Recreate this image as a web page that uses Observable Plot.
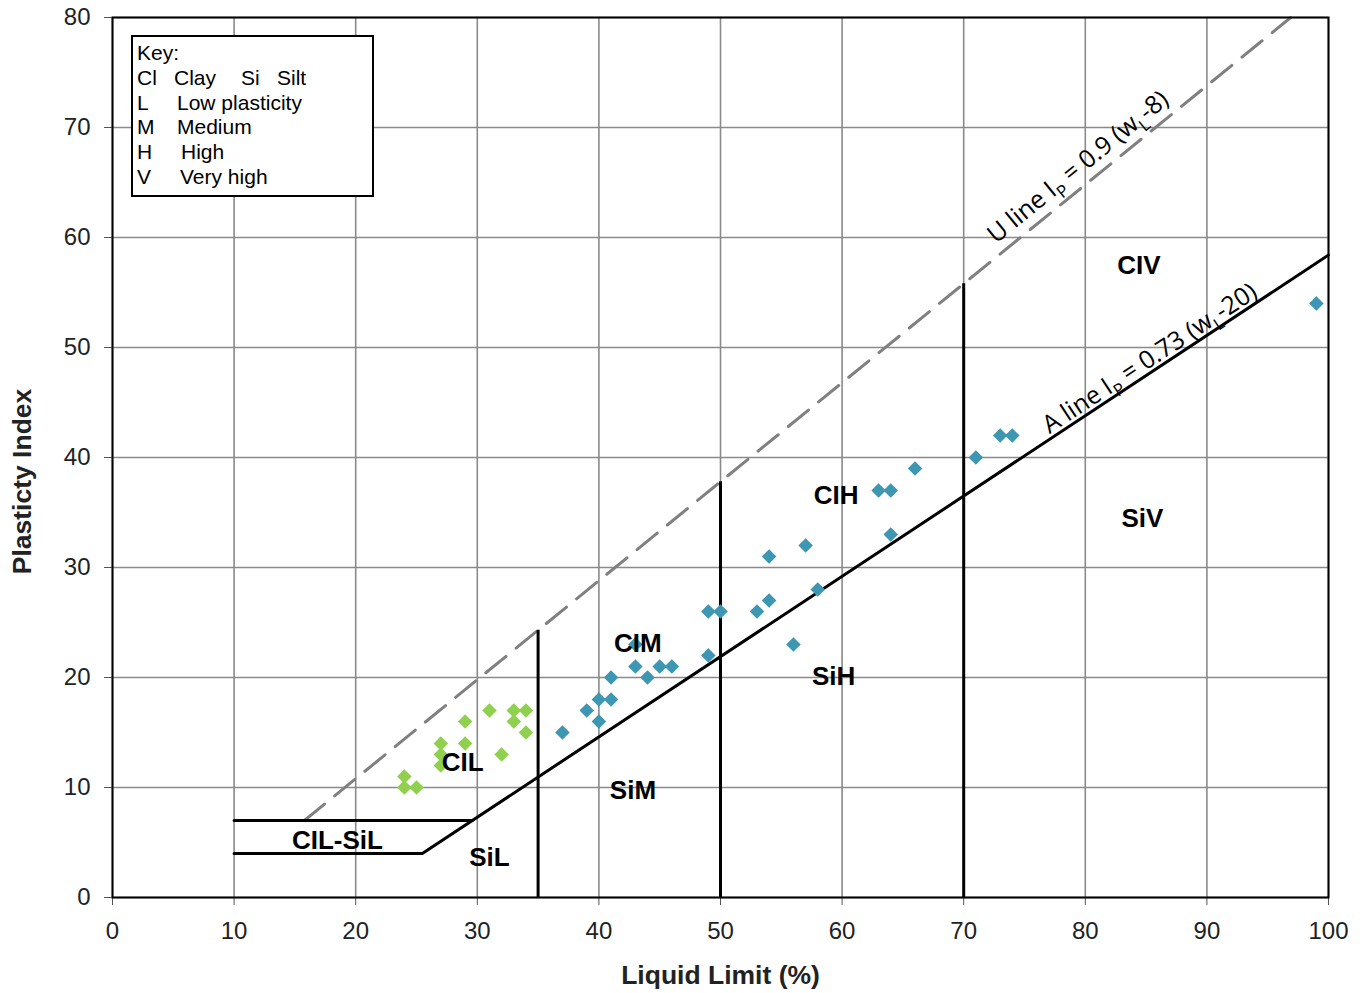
<!DOCTYPE html>
<html>
<head>
<meta charset="utf-8">
<script src="https://cdn.jsdelivr.net/npm/d3@7"></script>
<script src="https://cdn.jsdelivr.net/npm/@observablehq/plot@0.6"></script>
<style>
  body { margin: 0; background: #fff; font-family: "Liberation Sans", Arial, sans-serif; }
  #wrap { position: relative; width: 1371px; height: 993px; }
  #key { position: absolute; left: 131px; top: 35px; width: 239px; height: 158px;
         border: 2px solid #000; background: #fff; font-size: 21px; color: #000; }
  #key span { position: absolute; white-space: nowrap; line-height: 1; }
</style>
</head>
<body>
<div id="wrap"><div id="chart"></div><div id="key"></div></div>
<script>
// ---- data ----
const xTicks = [0, 10, 20, 30, 40, 50, 60, 70, 80, 90, 100];
const yTicks = [0, 10, 20, 30, 40, 50, 60, 70, 80];

// soil samples (liquid limit %, plasticity index)
const lowLL = [24, 24, 25, 27, 27, 27, 29, 29, 31, 32, 33, 33, 34, 34];
const lowPI = [11, 10, 10, 14, 13, 12, 14, 16, 17, 13, 17, 16, 17, 15];
const highLL = [37, 39, 40, 40, 41, 41, 43, 43, 44, 45, 46, 49, 49, 50, 53, 54, 54, 56, 57, 58, 63, 64, 64, 66, 71, 73, 74, 99];
const highPI = [15, 17, 18, 16, 18, 20, 21, 23, 20, 21, 21, 22, 26, 26, 26, 27, 31, 23, 32, 28, 37, 37, 33, 39, 40, 42, 42, 54];

// chart boundaries
const uSlope = 0.9, uOffset = 8;      // U line Ip = 0.9 (wL - 8)
const aSlope = 0.73, aOffset = 20;    // A line Ip = 0.73 (wL - 20)
const uLineLL = [15.78, 96.89];
const aLineLL = [25.48, 100];
const lowerBandPI = 4, upperBandPI = 7, bandStartLL = 10;
const dividerLL = [35, 50, 70];

// zone labels
const zoneNames = ["CIV", "SiV", "CIH", "SiH", "CIM", "SiM", "CIL", "SiL", "CIL-SiL"];
const zoneLL =    [84.4, 84.7, 59.5, 59.3, 43.2, 42.8, 28.8, 31.0, 18.5];
const zonePI =    [57.4, 34.4, 36.5, 20.1, 23.1, 9.7, 12.3, 3.6, 5.2];

const lineLabels = ["U line I_P = 0.9 (w_L-8)", "A line I_P = 0.73 (w_L-20)"];
const lineLabelLL = [79.4, 85.3];
const lineLabelPI = [66.4, 49.0];

// ---- build tables ----
const uFn = x => uSlope * (x - uOffset);
const aFn = x => aSlope * (x - aOffset);
const lowPts = lowLL.map((x, i) => ({x, y: lowPI[i]}));
const highPts = highLL.map((x, i) => ({x, y: highPI[i]}));
const uLine = uLineLL.map(x => ({x, y: uFn(x)}));
const aLine = [{x: bandStartLL, y: lowerBandPI}, ...aLineLL.map(x => ({x, y: aFn(x)}))];
const upperBand = [{x: bandStartLL, y: upperBandPI}, {x: upperBandPI / aSlope + aOffset, y: upperBandPI}];
const dividers = dividerLL.map(x => ({x, y1: 0, y2: uFn(x)}));
const zones = zoneNames.map((t, i) => ({t, x: zoneLL[i], y: zonePI[i]}));

const W = 1371, H = 993, mL = 112, mR = 43, mT = 17, mB = 96;
const pxPerX = (W - mL - mR) / 100, pxPerY = (H - mT - mB) / 80;
const angU = -Math.atan(uSlope * pxPerY / pxPerX) * 180 / Math.PI;
const angA = -Math.atan(aSlope * pxPerY / pxPerX) * 180 / Math.PI;
const labels = lineLabels.map((t, i) => ({t, x: lineLabelLL[i], y: lineLabelPI[i], r: i === 0 ? angU : angA}));

const font = "Liberation Sans, Arial, sans-serif";
const chart = Plot.plot({
  width: W, height: H,
  marginLeft: mL, marginRight: mR, marginTop: mT, marginBottom: mB,
  style: {fontFamily: font, background: "white", color: "#222"},
  x: {domain: [0, 100]},
  y: {domain: [0, 80]},
  marks: [
    Plot.gridX(xTicks, {stroke: "#8a8a8a", strokeOpacity: 1, strokeWidth: 1.6}),
    Plot.gridY(yTicks, {stroke: "#8a8a8a", strokeOpacity: 1, strokeWidth: 1.6}),
    Plot.axisX(xTicks, {tickSize: 8, tickPadding: 16, fontSize: 24, label: null, stroke: "#555"}),
    Plot.axisY(yTicks, {tickSize: 8, tickPadding: 14, fontSize: 24, label: null, stroke: "#555"}),
    Plot.line(uLine, {x: "x", y: "y", stroke: "#808080", strokeWidth: 3, strokeDasharray: "26,13"}),
    Plot.line(aLine, {x: "x", y: "y", stroke: "#000", strokeWidth: 3}),
    Plot.line(upperBand, {x: "x", y: "y", stroke: "#000", strokeWidth: 3}),
    Plot.ruleX(dividers, {x: "x", y1: "y1", y2: "y2", stroke: "#000", strokeWidth: 3}),
    Plot.frame({stroke: "#000", strokeWidth: 2}),
    Plot.dot(lowPts, {x: "x", y: "y", symbol: "square", rotate: 45, r: 5.8, fill: "#8fd14f", stroke: "none"}),
    Plot.dot(highPts, {x: "x", y: "y", symbol: "square", rotate: 45, r: 5.8, fill: "#3d97b3", stroke: "none"}),
    Plot.text(zones, {x: "x", y: "y", text: "t", fontSize: 26, fontWeight: "bold", fill: "#000"}),
    Plot.text(labels, {x: "x", y: "y", text: "t", rotate: "r", fontSize: 25, fill: "#000", fontFamily: "Open Sans, sans-serif"}),
    Plot.text(["Liquid Limit (%)"], {frameAnchor: "bottom", dy: 86, text: d => d, fontSize: 26.5, fontWeight: "bold", fill: "#222"}),
    Plot.text(["Plasticty Index"], {frameAnchor: "left", textAnchor: "middle", dx: -90, dy: 24, rotate: -90, text: d => d, fontSize: 26.5, fontWeight: "bold", fill: "#222"})
  ]
});
document.getElementById("chart").appendChild(chart);

// subscripts in line labels
d3.select(chart).selectAll("text").each(function () {
  const s = this.textContent;
  if (!lineLabels.includes(s)) return;
  const el = d3.select(this);
  el.text(null);
  const parts = s.split(/_(\w)/);
  parts.forEach((p, i) => {
    if (i % 2 === 0) { if (p) el.append("tspan").text(p); }
    else {
      el.append("tspan").attr("dy", 7).attr("font-size", 17).text(p);
      el.append("tspan").attr("dy", -7).text("\u200b");
    }
  });
});

// key box
const keyRows = [
  [["Key:", 4]],
  [["Cl", 4], ["Clay", 41], ["Si", 108], ["Silt", 144]],
  [["L", 4], ["Low plasticity", 44]],
  [["M", 4], ["Medium", 44]],
  [["H", 4], ["High", 48]],
  [["V", 4], ["Very high", 47]]
];
const key = document.getElementById("key");
keyRows.forEach((row, r) => row.forEach(([t, x]) => {
  const s = document.createElement("span");
  s.textContent = t;
  s.style.left = x + "px";
  s.style.top = (5 + r * 24.8) + "px";
  key.appendChild(s);
}));
</script>
</body>
</html>
